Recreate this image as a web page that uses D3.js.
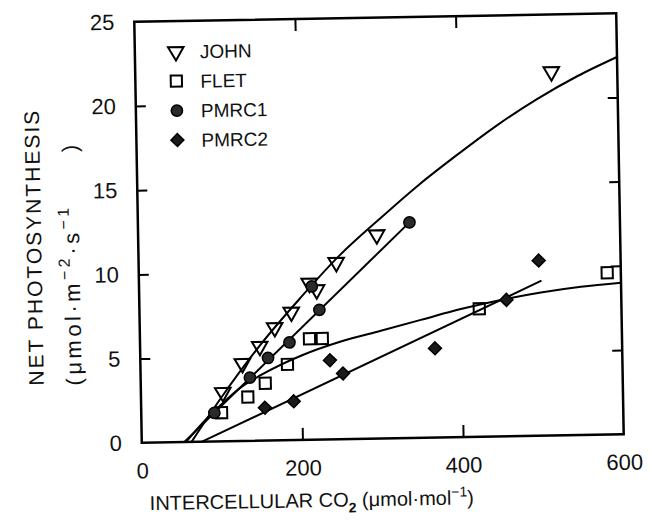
<!DOCTYPE html>
<html lang="en">
<head>
<meta charset="UTF-8">
<title>Net photosynthesis vs intercellular CO2</title>
<script src="https://d3js.org/d3.v7.min.js"></script>
<style>
    body { margin: 0; background: #fff; }
    svg { font-family: "Liberation Sans", Arial, sans-serif; }
    .frame { fill: none; stroke: #000; stroke-width: 2.5; }
    .tick line { stroke: #000; stroke-width: 2; }
    .tick text { font-size: 22px; fill: #111; }
    .fit { fill: none; stroke: #000; stroke-width: 2; }
</style>
</head>
<body>
<div id="chart"></div>
<script>
// axis ticks
const xTicks = [0, 200, 400, 600];
const yTicks = [0, 5, 10, 15, 20, 25];
const xInner = [200, 400];
const yInner = [5, 10, 15, 20];

// measured points [Ci, A]
const johnPts  = [[102, 2.9], [127, 4.6], [149, 5.6], [168, 6.7], [189, 7.6], [212, 9.3], [221, 8.9], [246, 10.5], [297, 12.1], [518, 21.6]];
const fletPts  = [[100, 1.7], [133, 2.6], [155, 3.4], [183, 4.5], [211, 6.0], [227, 6.0], [423, 7.6], [583, 9.6]];
const pmrc1Pts = [[91, 1.7], [136, 3.75], [159, 4.9], [186, 5.8], [215, 9.1], [224, 7.7], [338, 12.8]];
const pmrc2Pts = [[154, 1.95], [190, 2.3], [236, 4.7], [252, 3.9], [367, 5.3], [457, 8.1], [498, 10.4]];

// fitted lines
const johnFit  = [[62, 0], [100, 2.6], [150, 5.7], [200, 8.4], [250, 10.9], [300, 13.0], [350, 15.0], [400, 16.8], [450, 18.5], [500, 20.0], [550, 21.3], [600, 22.4]];
const fletFit  = [[55, 0], [80, 1.3], [100, 2.2], [125, 3.2], [150, 3.9], [200, 5.0], [250, 5.8], [300, 6.4], [350, 7.0], [400, 7.6], [450, 8.1], [500, 8.5], [550, 8.8], [600, 9.0]];
const pmrc1Fit = [[53, 0], [338, 12.8]];
const pmrc2Fit = [[75, 0], [501, 9.2]];

const legendNames = ["JOHN", "FLET", "PMRC1", "PMRC2"];

const W = 651, H = 522;
const margin = {top: 17.5, left: 138};
const width = 482, height = 421;

// the scanned figure sits about a degree off square
const tilt = -1.02, cx = margin.left + width / 2, cy = margin.top + height / 2;

const svg = d3.select("#chart").append("svg")
    .attr("width", W).attr("height", H);
const root = svg.append("g")
    .attr("transform", "rotate(" + tilt + "," + cx + "," + cy + ")");
const g = root.append("g")
    .attr("transform", "translate(" + margin.left + "," + margin.top + ")");

const x = d3.scaleLinear().domain([0, 600]).range([0, width]);
const y = d3.scaleLinear().domain([0, 25]).range([height, 0]);

// axes with inward ticks
g.append("g").attr("transform", "translate(0," + height + ")")
    .call(d3.axisBottom(x).tickValues(xTicks).tickSize(-12).tickPadding(20).tickFormat(d3.format("d")))
    .call(a => a.select(".domain").remove())
    .call(a => a.selectAll(".tick line").filter(d => !xInner.includes(d)).remove());
g.append("g")
    .call(d3.axisLeft(y).tickValues(yTicks).tickSize(-10).tickPadding(20).tickFormat(d3.format("d")))
    .call(a => a.select(".domain").remove())
    .call(a => a.selectAll(".tick line").filter(d => !yInner.includes(d)).remove());
g.append("g")
    .call(d3.axisTop(x).tickValues(xInner).tickSize(-12).tickFormat(""))
    .call(a => a.select(".domain").remove());
g.append("g").attr("transform", "translate(" + width + ",0)")
    .call(d3.axisRight(y).tickValues(yInner).tickSize(-10).tickFormat(""))
    .call(a => a.select(".domain").remove());

g.append("rect").attr("class", "frame")
    .attr("x", 0).attr("y", 0).attr("width", width).attr("height", height);

// fitted curves
const line = d3.line().x(d => x(d[0])).y(d => y(d[1])).curve(d3.curveMonotoneX);
[johnFit, fletFit, pmrc1Fit, pmrc2Fit].forEach(c => {
    g.append("path").attr("class", "fit").attr("d", line(c));
});

// marker shapes
const tri = d3.symbol().type(d3.symbolTriangle).size(105);
const sq = d3.symbol().type(d3.symbolSquare).size(125);
const circ = d3.symbol().type(d3.symbolCircle).size(100);
const dia = d3.symbol().type(d3.symbolSquare).size(84);

const styles = [
    {shape: tri, fill: "none", sw: 2, rot: 180},
    {shape: sq, fill: "none", sw: 2, rot: 0},
    {shape: circ, fill: "#2a2a2a", sw: 1.5, rot: 0},
    {shape: dia, fill: "#1a1a1a", sw: 1.5, rot: 45}
];

function drawMarkers(pts, s) {
    g.append("g").selectAll("path").data(pts).enter().append("path")
        .attr("d", s.shape())
        .attr("transform", d => "translate(" + x(d[0]) + "," + y(d[1]) + ") rotate(" + s.rot + ")")
        .attr("fill", s.fill)
        .attr("stroke", "#000")
        .attr("stroke-width", s.sw);
}
[johnPts, fletPts, pmrc1Pts, pmrc2Pts].forEach((pts, i) => drawMarkers(pts, styles[i]));

// legend
const legend = root.append("g").attr("transform", "translate(179,48)");
legendNames.forEach((name, i) => {
    const s = styles[i];
    legend.append("path").attr("d", s.shape())
        .attr("transform", "translate(0," + (i * 29.5) + ") rotate(" + s.rot + ")")
        .attr("fill", s.fill).attr("stroke", "#000").attr("stroke-width", s.sw);
    legend.append("text").attr("x", 24).attr("y", i * 29.5 + 7)
        .attr("font-size", 19).attr("fill", "#111").text(name);
});

// y axis title
root.append("g").attr("transform", "translate(41,241) rotate(-90)")
    .append("text").attr("text-anchor", "middle").attr("font-size", 21)
    .attr("letter-spacing", 2).attr("fill", "#111").text("NET PHOTOSYNTHESIS");
const yt2 = root.append("g").attr("transform", "translate(79,258) rotate(-90)")
    .append("text").attr("text-anchor", "middle").attr("font-size", 22)
    .attr("letter-spacing", 3.5).attr("fill", "#111");
yt2.append("tspan").text("(\u03bcmol\u00b7m");
yt2.append("tspan").attr("dy", -10).attr("font-size", 16).text("\u22122");
yt2.append("tspan").attr("dy", 10).text("\u00b7s");
yt2.append("tspan").attr("dy", -10).attr("font-size", 16).text("\u22121");
yt2.append("tspan").attr("dy", 10).attr("dx", 52).text(")");

// x axis title
const xt = root.append("text").attr("x", 307).attr("y", 506)
    .attr("text-anchor", "middle").attr("font-size", 20).attr("fill", "#111");
xt.append("tspan").text("INTERCELLULAR CO");
xt.append("tspan").attr("dy", 6).attr("font-size", 14).attr("font-weight", "bold").text("2");
xt.append("tspan").attr("dy", -6).text(" (\u03bcmol\u00b7mol");
xt.append("tspan").attr("dy", -8).attr("font-size", 14).text("\u22121");
xt.append("tspan").attr("dy", 8).text(")");
</script>
</body>
</html>
